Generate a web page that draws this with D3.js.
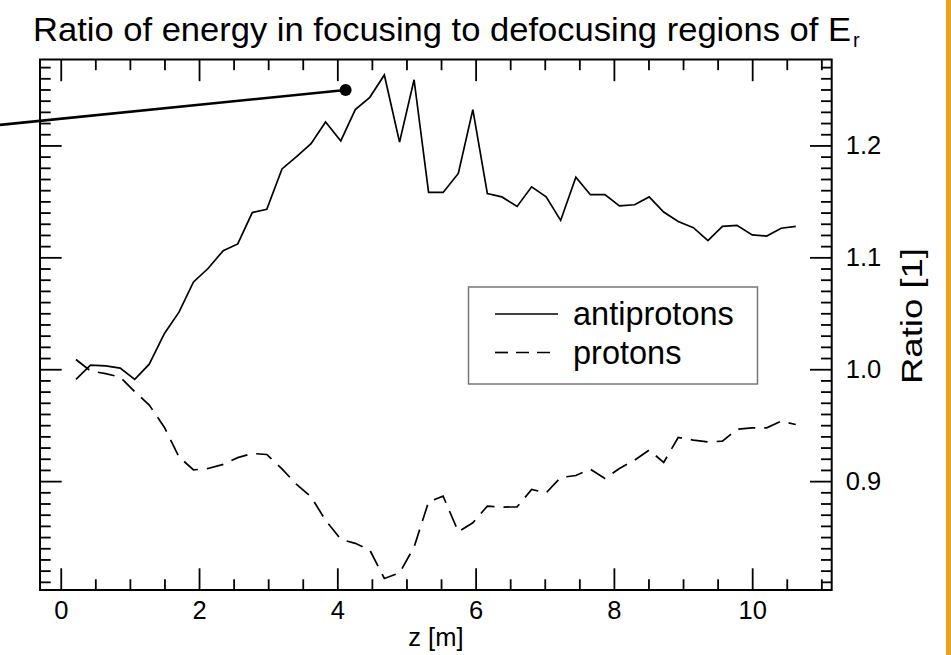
<!DOCTYPE html>
<html>
<head>
<meta charset="utf-8">
<script src="https://cdn.jsdelivr.net/npm/d3@7"></script>
<style>
  html, body { margin: 0; padding: 0; background: #fff; }
  svg { display: block; }
  text { font-family: "Liberation Sans", Arial, Helvetica, sans-serif; fill: #000; }
</style>
</head>
<body>
<svg id="chart" width="951" height="655"></svg>
<script>
// ---- data ----
const zValues = [0.22, 0.43, 0.65, 0.86, 1.07, 1.28, 1.50, 1.71, 1.92, 2.13,
                 2.35, 2.56, 2.77, 2.98, 3.20, 3.41, 3.62, 3.83, 4.05, 4.26,
                 4.47, 4.68, 4.90, 5.11, 5.32, 5.53, 5.75, 5.96, 6.17, 6.38,
                 6.60, 6.81, 7.02, 7.23, 7.45, 7.66, 7.87, 8.08, 8.30, 8.51,
                 8.72, 8.93, 9.15, 9.36, 9.57, 9.78, 10.00, 10.21, 10.42, 10.63];
const antiprotons = [0.991, 1.0036, 1.003, 1.001, 0.991, 1.0045, 1.032, 1.051, 1.078, 1.090,
                     1.106, 1.112, 1.140, 1.143, 1.179, 1.190, 1.2015, 1.221, 1.204, 1.232,
                     1.243, 1.263, 1.203, 1.2587, 1.158, 1.158, 1.175, 1.232, 1.157, 1.154,
                     1.1455, 1.163, 1.154, 1.133, 1.1717, 1.156, 1.156, 1.146, 1.147, 1.154,
                     1.1405, 1.132, 1.1265, 1.115, 1.1277, 1.1286, 1.120, 1.119, 1.126, 1.1277];
const protons = [1.0087, 0.9985, 0.996, 0.993, 0.980, 0.968, 0.948, 0.9217, 0.910, 0.9113,
                 0.915, 0.921, 0.9247, 0.9238, 0.911, 0.897, 0.886, 0.865, 0.848, 0.8444,
                 0.8384, 0.813, 0.818, 0.841, 0.8815, 0.8866, 0.8547, 0.8628, 0.8777, 0.8768,
                 0.877, 0.8925, 0.8895, 0.9033, 0.905, 0.9107, 0.9024, 0.9113, 0.9188, 0.9277,
                 0.9167, 0.939, 0.9366, 0.935, 0.9357, 0.9464, 0.9476, 0.9476, 0.9536, 0.9506];
const seriesNames = ["antiprotons", "protons"];
const xMajorTicks = [0, 2, 4, 6, 8, 10];
const xMinorTicks = [0.5, 1, 1.5, 2.5, 3, 3.5, 4.5, 5, 5.5, 6.5, 7, 7.5, 8.5, 9, 9.5, 10.5, 11];
const yMajorTicks = [0.9, 1.0, 1.1, 1.2];
const yTickLabels = ["0.9", "1.0", "1.1", "1.2"];
const yMinorTicks = d3.range(81, 128).map(v => v / 100).filter(v => Math.round(v * 100) % 10 !== 0);
const annotationZ = [-0.878, 4.12];
const annotationRatio = [1.2184, 1.2496];
const titleText = "Ratio of energy in focusing to defocusing regions of E";
const xLabel = "z [m]";
const yLabel = "Ratio [1]";

// ---- layout ----
const svg = d3.select("#chart");
const L = 40, R = 831.7, T = 59.5, B = 590;
const x = d3.scaleLinear().domain([-0.3, 11.15]).range([L, R]);
const y = d3.scaleLinear().domain([0.8027, 1.2768]).range([B, T]);
const majorLen = 21.7, minorLen = 10.7;

// orange side bar
svg.append("rect").attr("x", 946).attr("y", 0).attr("width", 5).attr("height", 655).attr("fill", "#E9A21F");

// title
svg.append("text").attr("x", 33).attr("y", 41)
  .attr("font-size", 33).attr("textLength", 818).attr("lengthAdjust", "spacingAndGlyphs")
  .text(titleText);
svg.append("text").attr("x", 853).attr("y", 47).attr("font-size", 20).text("r");

function styleAxis(g) {
  g.attr("font-family", null).attr("font-size", null);
  g.select(".domain").remove();
  g.selectAll(".tick line").attr("stroke", "#000").attr("stroke-width", 1.8);
  g.selectAll("text").style("font-family", "'Liberation Sans', Arial, sans-serif").attr("font-size", 25.5).attr("fill", "#000");
}

// bottom axis
svg.append("g").attr("transform", `translate(0,${B})`)
  .call(d3.axisBottom(x).tickValues(xMajorTicks).tickSize(-majorLen).tickSizeOuter(0).tickPadding(11).tickFormat(d3.format("d")))
  .call(styleAxis);
svg.append("g").attr("transform", `translate(0,${B})`)
  .call(d3.axisBottom(x).tickValues(xMinorTicks).tickSize(-minorLen).tickSizeOuter(0).tickFormat(""))
  .call(styleAxis);
// top axis
svg.append("g").attr("transform", `translate(0,${T})`)
  .call(d3.axisTop(x).tickValues(xMajorTicks).tickSize(-majorLen).tickSizeOuter(0).tickFormat(""))
  .call(styleAxis);
svg.append("g").attr("transform", `translate(0,${T})`)
  .call(d3.axisTop(x).tickValues(xMinorTicks).tickSize(-minorLen).tickSizeOuter(0).tickFormat(""))
  .call(styleAxis);
// left axis
svg.append("g").attr("transform", `translate(${L},0)`)
  .call(d3.axisLeft(y).tickValues(yMajorTicks).tickSize(-majorLen).tickSizeOuter(0).tickFormat(""))
  .call(styleAxis);
svg.append("g").attr("transform", `translate(${L},0)`)
  .call(d3.axisLeft(y).tickValues(yMinorTicks).tickSize(-minorLen).tickSizeOuter(0).tickFormat(""))
  .call(styleAxis);
// right axis
svg.append("g").attr("transform", `translate(${R},0)`)
  .call(d3.axisRight(y).tickValues(yMajorTicks).tickSize(-majorLen).tickSizeOuter(0).tickPadding(14)
    .tickFormat((d, i) => yTickLabels[i]))
  .call(styleAxis);
svg.append("g").attr("transform", `translate(${R},0)`)
  .call(d3.axisRight(y).tickValues(yMinorTicks).tickSize(-minorLen).tickSizeOuter(0).tickFormat(""))
  .call(styleAxis);

// frame
svg.append("rect").attr("x", L).attr("y", T).attr("width", R - L).attr("height", B - T)
  .attr("fill", "none").attr("stroke", "#000").attr("stroke-width", 2);

// axis labels
svg.append("text").attr("x", (L + R) / 2).attr("y", 646).attr("text-anchor", "middle")
  .attr("font-size", 25.5).text(xLabel);
svg.append("text").attr("transform", "translate(922,316) rotate(-90)").attr("text-anchor", "middle")
  .attr("font-size", 30).attr("textLength", 136).attr("lengthAdjust", "spacingAndGlyphs").text(yLabel);

// series lines
const line = d3.line().x(d => x(d[0])).y(d => y(d[1]));
const apData = zValues.map((z, i) => [z, antiprotons[i]]);
const pData = zValues.map((z, i) => [z, protons[i]]);
svg.append("path").datum(apData).attr("d", line).attr("fill", "none")
  .attr("stroke", "#000").attr("stroke-width", 1.7).attr("stroke-linejoin", "miter");
svg.append("path").datum(pData).attr("d", line).attr("fill", "none")
  .attr("stroke", "#000").attr("stroke-width", 1.7).attr("stroke-dasharray", "17,9");

// annotation line with dot
const annData = annotationZ.map((z, i) => [z, annotationRatio[i]]);
svg.append("path").datum(annData).attr("d", line).attr("fill", "none")
  .attr("stroke", "#000").attr("stroke-width", 2.6);
svg.append("circle").attr("cx", x(annotationZ[1])).attr("cy", y(annotationRatio[1])).attr("r", 6).attr("fill", "#000");

// legend
const lg = svg.append("g");
lg.append("rect").attr("x", 468.5).attr("y", 287).attr("width", 289).attr("height", 97)
  .attr("fill", "#fff").attr("stroke", "#777").attr("stroke-width", 1.5);
const legendRows = [{ name: seriesNames[0], dash: null, yy: 314 }, { name: seriesNames[1], dash: "13,8", yy: 352.5 }];
legendRows.forEach(r => {
  lg.append("line").attr("x1", 495).attr("x2", 558).attr("y1", r.yy).attr("y2", r.yy)
    .attr("stroke", "#000").attr("stroke-width", 1.7).attr("stroke-dasharray", r.dash);
  lg.append("text").attr("x", 573).attr("y", r.yy + 11).attr("font-size", 32.5).text(r.name);
});
</script>
</body>
</html>
